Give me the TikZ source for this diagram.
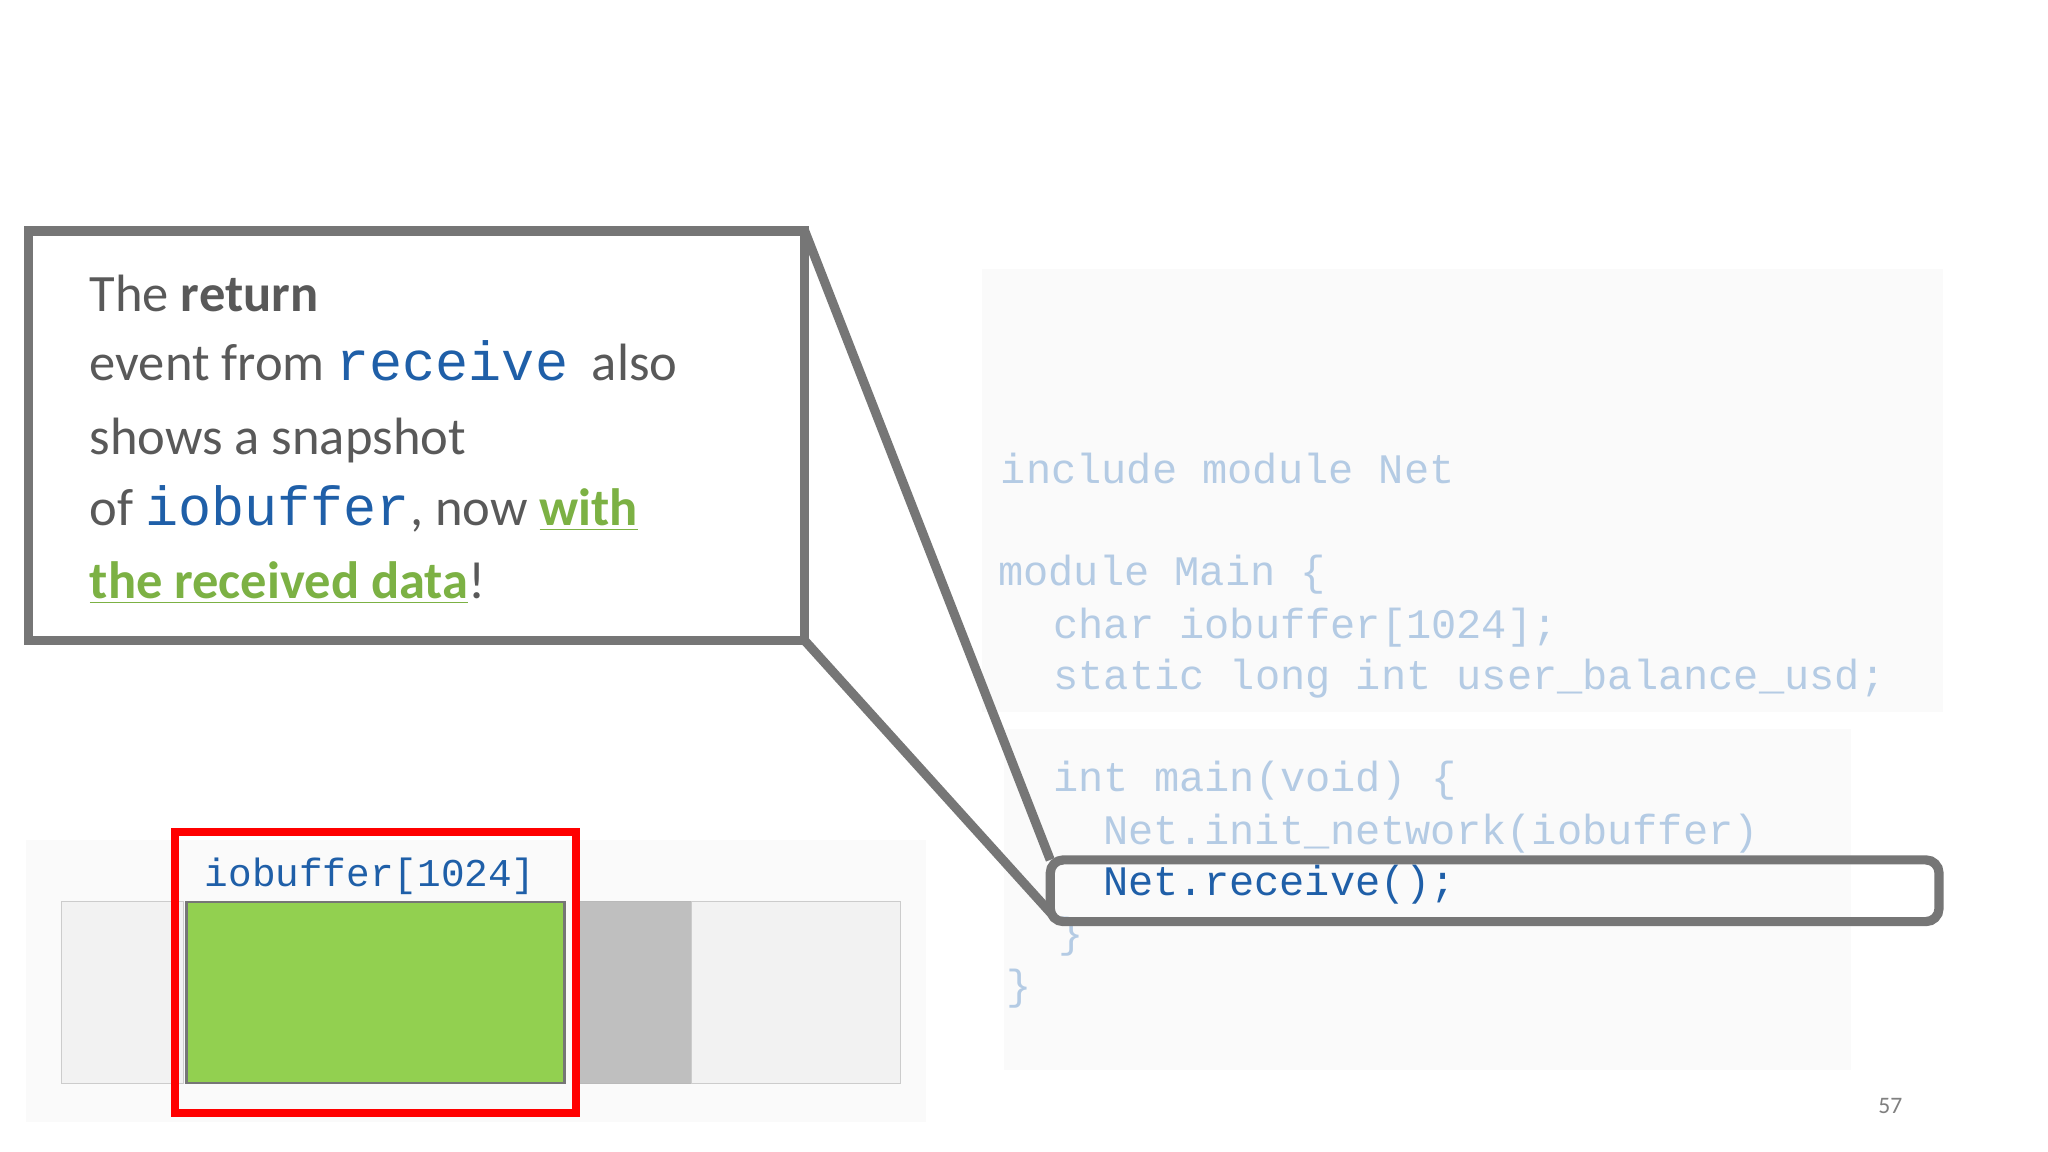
\documentclass[tikz,border=0pt]{standalone}
\usepackage{fontspec}
\setmainfont{Carlito}
\newfontfamily\codefont{Liberation Mono}
\definecolor{cgray}{HTML}{767676}
\definecolor{codelt}{HTML}{B4CBE4}
\definecolor{codedk}{HTML}{1F5FA8}
\definecolor{green1}{HTML}{92D050}
\definecolor{txtg}{HTML}{595959}
\begin{document}
\begin{tikzpicture}[x=0.5pt,y=-0.5pt,
  codeln/.style={anchor=base west,inner sep=0,font=\codefont\fontsize{16}{16}\selectfont,text=codelt},
  txtln/.style={anchor=base west,inner sep=0,font=\fontsize{20}{20}\selectfont,text=txtg},
  mono/.style={}]
\useasboundingbox (0,0) rectangle (1560,877.5);
\fill[white] (0,0) rectangle (1560,877.5);
% code backgrounds
\fill[gray!4] (748,205) rectangle (1480,542);
\fill[gray!4] (765,555) rectangle (1410,815);
% code
\node[codeln] (c1) at (762,368) {include module Net};
\node[codeln] (c2) at (760,446) {module Main \{};
\node[codeln] (c3) at (802,486) {char iobuffer[1024];};
\node[codeln] (c4) at (802,525) {static long int user\_balance\_usd;};
\node[codeln] (c5) at (802,603) {int main(void) \{};
\node[codeln] (c6) at (840,643) {Net.init\_network(iobuffer)};
\node[codeln,text=codedk] (c7) at (840,682) {Net.receive();};
\node[codeln] (c8) at (806,722) {\}};
\node[codeln] (c9) at (766,761) {\}};
% highlight
\draw[cgray,line width=3.5pt,rounded corners=5pt] (800,655) rectangle (1477,702);
\coordinate (h1) at (800,655);
\coordinate (h2) at (800,695);
% memory
\fill[gray!4] (20,640) rectangle (705,855);
\draw[gray!40,fill=gray!10] (47,687) rectangle (140,825);
\draw[gray!55,fill=gray!50] (440,687) rectangle (527,825);
\draw[gray!40,fill=gray!10] (527,687) rectangle (686,825);
\draw[cgray,line width=1pt,fill=green1] (142,687) rectangle (430,825);
\draw[red,line width=3pt] (133,634) rectangle (439,848);
\node[anchor=base,inner sep=0,font=\codefont\fontsize{15}{15}\selectfont,text=codedk] (lab) at (282,675) {iobuffer[1024]};
% callout
\draw[cgray,line width=3.5pt,fill=white] (22,176) rectangle (613,488);
\coordinate (k1) at (613,176);
\coordinate (k2) at (613,488);
\draw[cgray,line width=3.5pt] (k1) -- (h1);
\draw[cgray,line width=3.5pt] (k2) -- (h2);
\node[txtln] (t1) at (68,237) {The \textbf{return}};
\node[txtln] (t2) at (68,290) {event from {\codefont\fontsize{21}{21}\selectfont\color{codedk}receive}\ \ also};
\node[txtln] (t3) at (68,346) {shows a snapshot};
\node[txtln] (t4) at (68,400) {of {\codefont\fontsize{21}{21}\selectfont\color{codedk}iobuffer}, now {\bfseries\color{green1!85!black}\underline{with}}};
\node[txtln] (t5) at (68,456) {{\bfseries\color{green1!85!black}\underline{the received data}}!};
\node[anchor=base,inner sep=0,font=\fontsize{9}{9}\selectfont,text=gray] (pg) at (1440,848) {57};
\end{tikzpicture}
\end{document}
